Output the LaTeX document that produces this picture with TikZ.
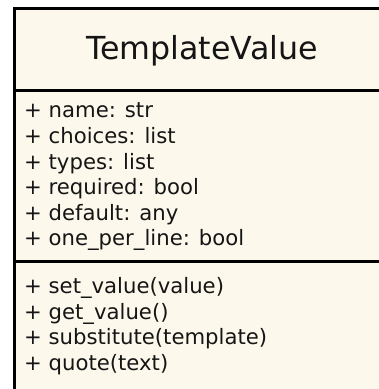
\documentclass[tikz,border=0pt]{standalone}
\usepackage{fontspec}
\setmainfont{DejaVu Sans}
\definecolor{classfill}{HTML}{FCF9EC}
\definecolor{classtext}{HTML}{151515}
\begin{document}
\begin{tikzpicture}[x=1pt,y=-1pt,
  classborder/.style={line width=3pt,draw=black},
  titletext/.style={font=\fontsize{31.7}{36}\selectfont,text=classtext,inner sep=0pt,anchor=base west},
  membertext/.style={font=\fontsize{21.2}{25}\selectfont,text=classtext,inner sep=0pt,anchor=base west}]
  \useasboundingbox (0,0) rectangle (379,389);
  \clip (0,0) rectangle (379,389);
  % class box, running past the right and bottom edges
  \path[fill=classfill] (14,8.3) rectangle (392,400);
  \draw[classborder] (14,400) -- (14,8.3) -- (392,8.3);
  \draw[classborder] (14,90) -- (392,90);
  \draw[classborder] (14,261) -- (392,261);
  % class name
  \node[titletext] (title) at (86,59.5) {TemplateValue};
  % attributes
  \foreach \txt [count=\i from 0] in {{+ name: str},{+ choices: list},{+ types: list},{+ required: bool},{+ default: any},{+ one\_per\_line: bool}}
    \node[membertext] (attr\i) at (24,{117.9+25.6*\i}) {\txt};
  % operations
  \foreach \txt [count=\i from 0] in {{+ set\_value(value)},{+ get\_value()},{+ substitute(template)},{+ quote(text)}}
    \node[membertext] (op\i) at (24,{293.6+25.6*\i}) {\txt};
\end{tikzpicture}
\end{document}
